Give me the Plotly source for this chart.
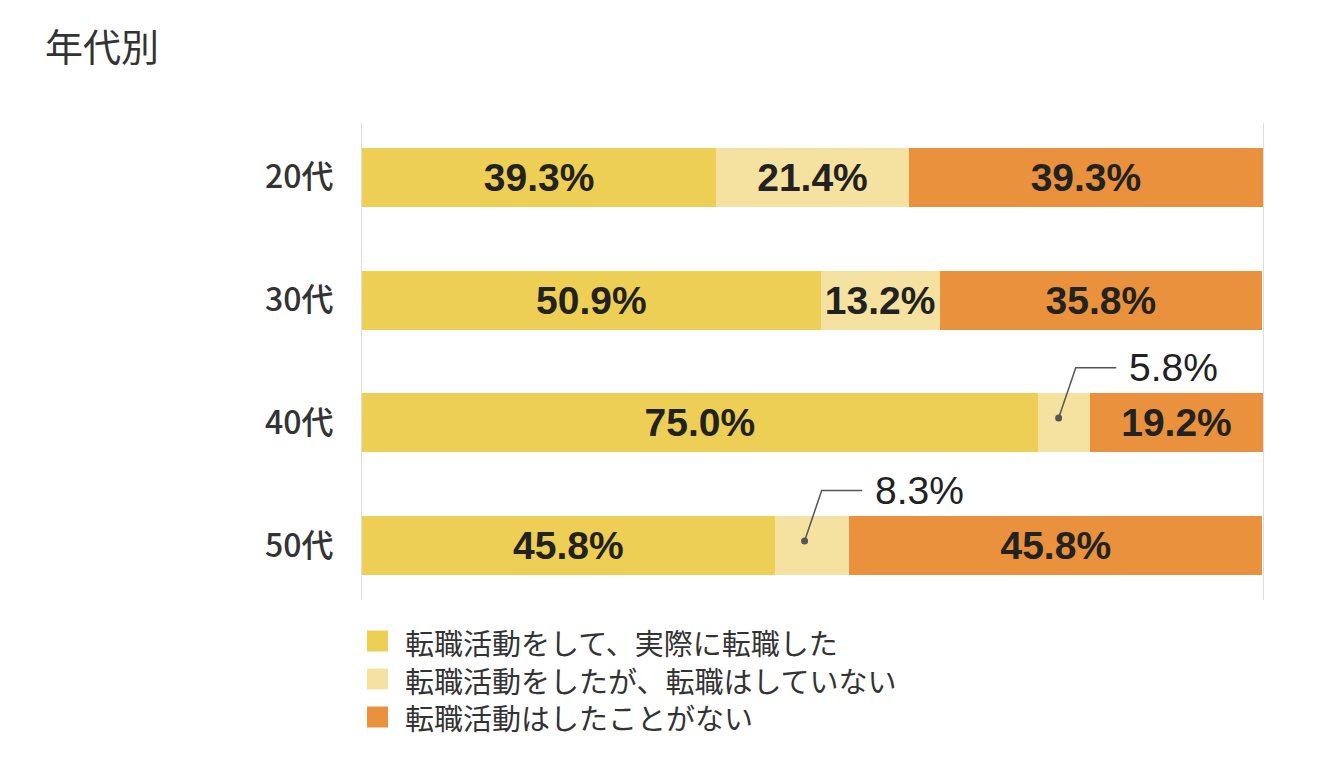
import plotly.graph_objects as go

# ---------------- data ----------------
categories = ["20代", "30代", "40代", "50代"]
series_names = [
    "転職活動をして、実際に転職した",
    "転職活動をしたが、転職はしていない",
    "転職活動はしたことがない",
]
changed = [39.3, 50.9, 75.0, 45.8]
not_changed = [21.4, 13.2, 5.8, 8.3]
never = [39.3, 35.8, 19.2, 45.8]
callout_rows = [2, 3]  # rows whose middle value is shown as a callout

colors = ["#EECF55", "#F6E2A0", "#E9913D"]

W, H = 1340, 770
L, R, T, B = 362, 77, 123, 170
PW, PH = W - L - R, H - T - B

JP = "Noto Sans CJK JP, Noto Sans, sans-serif"
NUM = "Liberation Sans, Arial, sans-serif"

ypos = list(range(len(categories)))
series = [changed, not_changed, never]

fig = go.Figure()
for k, (name, vals, col) in enumerate(zip(series_names, series, colors)):
    texts = []
    for i, v in enumerate(vals):
        if k == 1 and i in callout_rows:
            texts.append("")
        else:
            texts.append(f"{v:.1f}%")
    fig.add_trace(go.Bar(
        name=name, orientation="h", x=vals, y=ypos, width=0.48,
        marker=dict(color=col, line=dict(width=0)),
        text=texts, textposition="inside", insidetextanchor="middle",
        textangle=0, constraintext="none",
        textfont=dict(family=NUM, size=39, color="#222222", weight="bold"),
        showlegend=False, hoverinfo="x+y",
    ))

# callouts for thin middle segments
for i in callout_rows:
    start = changed[i]
    v = not_changed[i]
    dx = start + v * 0.4
    ydot = i - 0.04
    yline = i - 0.45
    xs = [dx, dx + 1.9, dx + 6.4]
    ys = [ydot, yline, yline]
    fig.add_trace(go.Scatter(x=xs, y=ys, mode="lines",
                             line=dict(color="#555555", width=1.5),
                             showlegend=False, hoverinfo="skip"))
    fig.add_trace(go.Scatter(x=[dx], y=[ydot], mode="markers",
                             marker=dict(color="#555555", size=7),
                             showlegend=False, hoverinfo="skip"))
    fig.add_annotation(x=dx + 6.4 + 1.2, y=yline, xref="x", yref="y",
                       text=f"{v:.1f}%", showarrow=False,
                       xanchor="left", yanchor="middle",
                       font=dict(family=NUM, size=39, color="#222222"))

# manual legend (pixel -> paper conversion)
def px_x(px):
    return (px - L) / PW

def px_y(py):
    return (H - B - py) / PH

legend_y = [641, 679, 717]
for col, ly in zip(colors, legend_y):
    fig.add_shape(type="rect", xref="paper", yref="paper",
                  x0=px_x(367), x1=px_x(388), y0=px_y(ly + 10.5), y1=px_y(ly - 10.5),
                  fillcolor=col, line=dict(width=0))
fig.add_annotation(x=px_x(403), y=px_y(legend_y[1]), xref="paper", yref="paper",
                   text="<br>".join(series_names), showarrow=False,
                   xanchor="left", yanchor="middle", align="left",
                   font=dict(family=JP, size=29, color="#333333"))

fig.update_layout(
    width=W, height=H,
    margin=dict(l=L, r=R, t=T, b=B),
    barmode="stack",
    plot_bgcolor="white", paper_bgcolor="white",
    title=dict(text="年代別", x=45 / W, xanchor="left", xref="container",
               y=1 - 48 / H, yanchor="middle", yref="container",
               font=dict(family=JP, size=38, color="#333333")),
    xaxis=dict(range=[0, 100], showgrid=False, zeroline=False,
               showticklabels=False, ticks="", fixedrange=True),
    yaxis=dict(range=[3.44, -0.44], tickvals=ypos, ticktext=categories,
               showgrid=False, zeroline=False, ticks="",
               showline=True, mirror=True, linecolor="#DDDDDD", linewidth=1,
               ticklabelstandoff=21,
               tickfont=dict(family=JP, size=32, color="#333333", weight=500)),
    showlegend=False,
)

fig.write_html("out.html")
